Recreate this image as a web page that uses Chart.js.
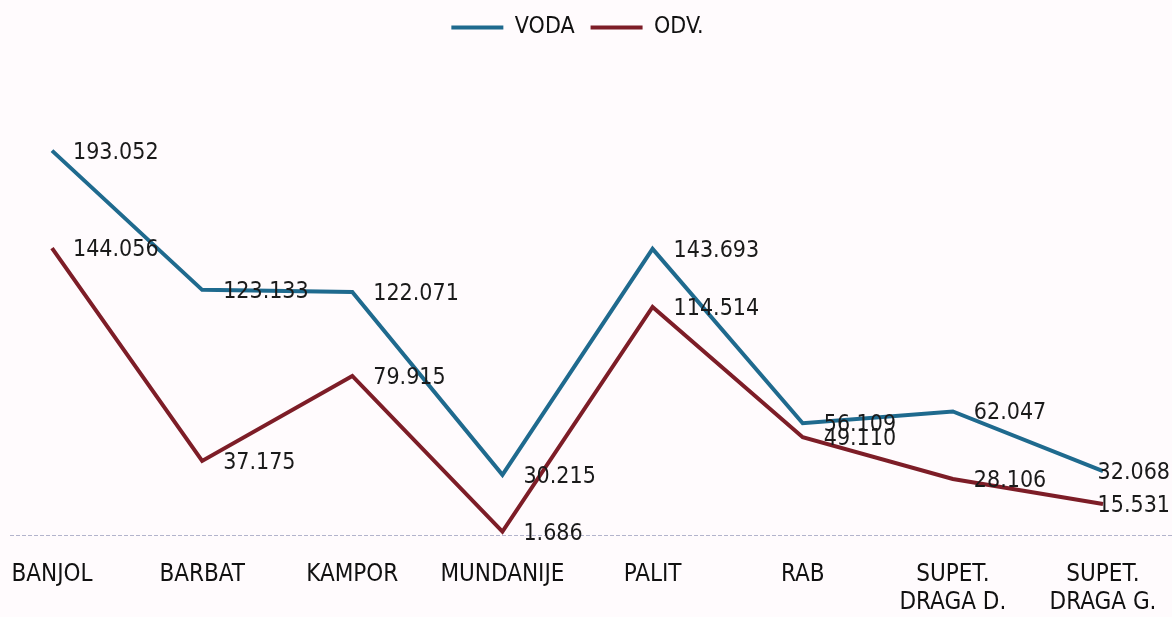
<!DOCTYPE html>
<html lang="hr">
<head>
    <meta charset="UTF-8">
    <title>VODA / ODV.</title>
    <script src="https://cdn.jsdelivr.net/npm/chart.js"></script>
    <style>
        html, body { margin: 0; padding: 0; background: #fffbfd; }
        #wrap { width: 1172px; height: 617px; position: relative; }
    </style>
</head>
<body>
<div id="wrap"><canvas id="chart"></canvas></div>
<script>
    // podaci sa slike
    const categories = ['BANJOL', 'BARBAT', 'KAMPOR', 'MUNDANIJE', 'PALIT', 'RAB', ['SUPET.', 'DRAGA D.'], ['SUPET.', 'DRAGA G.']];
    const voda = [193.052, 123.133, 122.071, 30.215, 143.693, 56.109, 62.047, 32.068];
    const odv = [144.056, 37.175, 79.915, 1.686, 114.514, 49.110, 28.106, 15.531];
    const vodaLabels = ['193.052', '123.133', '122.071', '30.215', '143.693', '56.109', '62.047', '32.068'];
    const odvLabels = ['144.056', '37.175', '79.915', '1.686', '114.514', '49.110', '28.106', '15.531'];

    const FONT = '"DejaVu Sans Condensed", "Liberation Sans Narrow", "DejaVu Sans", sans-serif';

    // vrijednosti uz tocke
    const pointLabels = {
        id: 'pointLabels',
        afterDatasetsDraw(chart) {
            const ctx = chart.ctx;
            ctx.save();
            ctx.font = '23px ' + FONT;
            ctx.fillStyle = '#1a1a1a';
            ctx.textAlign = 'left';
            ctx.textBaseline = 'middle';
            const texts = [vodaLabels, odvLabels];
            chart.data.datasets.forEach((ds, i) => {
                chart.getDatasetMeta(i).data.forEach((pt, j) => {
                    const t = texts[i][j];
                    const w = ctx.measureText(t).width;
                    let x = pt.x + 21;
                    if (x + w > chart.width - 2) x = chart.width - 2 - w;
                    ctx.fillText(t, x, pt.y + 2);
                });
            });
            ctx.restore();
        }
    };

    // isprekidana osnovna linija preko cijele sirine
    const baseLine = {
        id: 'baseLine',
        beforeDatasetsDraw(chart) {
            const ctx = chart.ctx;
            const y = chart.scales.y.getPixelForValue(0);
            ctx.save();
            ctx.strokeStyle = '#b3b4cc';
            ctx.lineWidth = 1;
            ctx.setLineDash([4, 2]);
            ctx.beginPath();
            ctx.moveTo(10, y + 0.5);
            ctx.lineTo(chart.width, y + 0.5);
            ctx.stroke();
            ctx.restore();
        }
    };

    // razmak ispod legende
    const legendGap = {
        id: 'legendGap',
        beforeInit(chart) {
            const fit = chart.legend.fit;
            chart.legend.fit = function () {
                fit.bind(chart.legend)();
                this.height += 48;
            };
        }
    };

    new Chart(document.getElementById('chart'), {
        type: 'line',
        data: {
            labels: categories,
            datasets: [
                {
                    label: 'VODA',
                    data: voda,
                    borderColor: '#1f6a8e',
                    backgroundColor: '#1f6a8e',
                    borderWidth: 4,
                    pointRadius: 0,
                    tension: 0
                },
                {
                    label: 'ODV.',
                    data: odv,
                    borderColor: '#7d1d27',
                    backgroundColor: '#7d1d27',
                    borderWidth: 4,
                    pointRadius: 0,
                    tension: 0
                }
            ]
        },
        options: {
            responsive: true,
            maintainAspectRatio: false,
            animation: false,
            layout: { padding: { left: 52, right: 69, top: 0, bottom: 1 } },
            plugins: {
                tooltip: { enabled: false },
                legend: {
                    position: 'top',
                    labels: {
                        usePointStyle: true,
                        pointStyle: 'line',
                        pointStyleWidth: 52,
                        padding: 16,
                        color: '#111',
                        font: { family: FONT, size: 23 }
                    }
                }
            },
            scales: {
                x: {
                    offset: false,
                    grid: { display: false, drawTicks: false },
                    border: { display: false },
                    afterFit(scale) {
                        scale.paddingLeft = 0;
                        scale.paddingRight = 0;
                        scale.height = 81;
                    },
                    ticks: {
                        color: '#111',
                        padding: 26,
                        maxRotation: 0,
                        autoSkip: false,
                        font: { family: FONT, size: 24, lineHeight: 1.15 }
                    }
                },
                y: {
                    display: false,
                    min: 0,
                    max: 220
                }
            }
        },
        plugins: [pointLabels, baseLine, legendGap]
    });
</script>
</body>
</html>
